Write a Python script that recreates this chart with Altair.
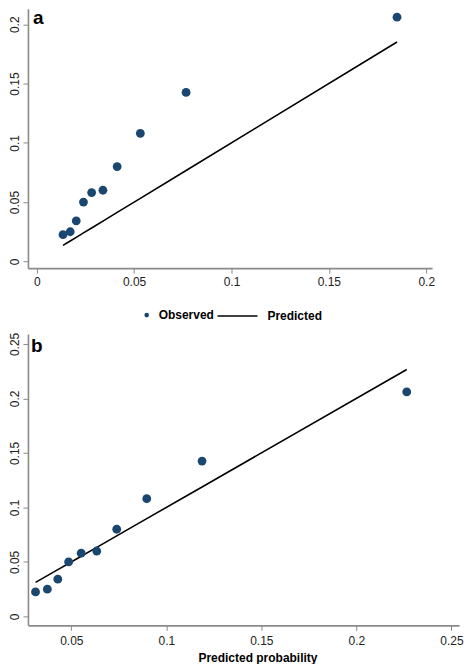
import altair as alt
import pandas as pd

# ---- data ----
observed = [0.0225, 0.025, 0.0342, 0.050, 0.058, 0.060, 0.080, 0.108, 0.1425, 0.206]
pred_a = [0.0135, 0.0172, 0.0203, 0.0240, 0.0282, 0.0340, 0.0413, 0.0532, 0.0767, 0.1850]
pred_b = [0.0312, 0.0374, 0.0429, 0.0486, 0.0552, 0.0634, 0.0739, 0.0897, 0.1188, 0.2265]
series_names = ["Observed", "Predicted"]
x_ticks_a = [0, 0.05, 0.1, 0.15, 0.2]
y_ticks_a = [0, 0.05, 0.1, 0.15, 0.2]
x_ticks_b = [0.05, 0.1, 0.15, 0.2, 0.25]
y_ticks_b = [0, 0.05, 0.1, 0.15, 0.2, 0.25]
panel_labels = ["a", "b"]
x_title_b = "Predicted probability"

NAVY = "#1a476f"
GREY = "#8a8a8a"
FONT = "Liberation Sans"

df_a = pd.DataFrame({"pred": pred_a, "obs": observed,
                     "s_obs": series_names[0], "s_pred": series_names[1]})
df_b = pd.DataFrame({"pred": pred_b, "obs": observed})


def x_axis(values, title=None, pad=3, **kw):
    return alt.Axis(values=values, format="~g", title=title, grid=False,
                    domainColor=GREY, domainWidth=1.6, tickColor=GREY,
                    tickSize=5, tickWidth=1, labelColor="#222", labelFont=FONT,
                    labelFontSize=12, labelPadding=pad, **kw)


def y_axis(values):
    return alt.Axis(values=values, format="~g", title=None, grid=False,
                    domainColor=GREY, domainWidth=1.6, tickColor=GREY,
                    tickSize=5, tickWidth=1, labelColor="#222", labelFont=FONT,
                    labelFontSize=12, labelAngle=270, labelAlign="center",
                    labelBaseline="bottom", labelPadding=1)


# ---- panel a ----
xs_a = alt.Scale(domain=[-0.0045, 0.203], nice=False, zero=False)
ys_a = alt.Scale(domain=[-0.0057, 0.2131], nice=False, zero=False)

pts_a = alt.Chart(df_a).mark_circle(size=78, opacity=1).encode(
    x=alt.X("pred:Q", scale=xs_a, axis=x_axis(x_ticks_a)),
    y=alt.Y("obs:Q", scale=ys_a, axis=y_axis(y_ticks_a)),
    fill=alt.Fill("s_obs:N", scale=alt.Scale(domain=[series_names[0]], range=[NAVY]),
                  legend=alt.Legend(title=None, orient="none", legendX=113, legendY=301,
                                    symbolType="circle", symbolSize=22, symbolStrokeWidth=0,
                                    labelFont=FONT, labelFontSize=12, labelFontWeight="bold",
                                    labelColor="black", labelOffset=6, padding=0)),
)
line_a = alt.Chart(df_a).mark_line(strokeWidth=1.6).encode(
    x=alt.X("pred:Q", scale=xs_a, axis=x_axis(x_ticks_a)),
    y=alt.Y("pred:Q", scale=ys_a, axis=y_axis(y_ticks_a)),
    stroke=alt.Stroke("s_pred:N", scale=alt.Scale(domain=[series_names[1]], range=["black"]),
                      legend=alt.Legend(title=None, orient="none", legendX=189, legendY=287,
                                        symbolType="stroke", symbolSize=1600,
                                        symbolStrokeWidth=1.6, symbolStrokeColor="black",
                                        labelFont=FONT, labelFontSize=12,
                                        labelFontWeight="bold", labelColor="black",
                                        labelOffset=9, padding=0)),
)
lab_a = alt.Chart(pd.DataFrame({"label": [panel_labels[0]]})).mark_text(
    font=FONT, fontSize=19, fontWeight="bold", align="left", baseline="alphabetic",
    color="black").encode(x=alt.value(5), y=alt.value(15), text="label:N")

panel_a = alt.layer(line_a, pts_a, lab_a).properties(width=405, height=260)

# ---- panel b ----
xs_b = alt.Scale(domain=[0.0272, 0.254], nice=False, zero=False)
ys_b = alt.Scale(domain=[-0.0082, 0.2591], nice=False, zero=False)

xb_axis = x_axis(x_ticks_b, title=x_title_b, pad=5, titleFont=FONT, titleFontSize=12,
                 titleFontWeight="bold", titleColor="black", titlePadding=6, titleX=230)

pts_b = alt.Chart(df_b).mark_circle(size=78, opacity=1, color=NAVY).encode(
    x=alt.X("pred:Q", scale=xs_b, axis=xb_axis),
    y=alt.Y("obs:Q", scale=ys_b, axis=y_axis(y_ticks_b)),
)
line_b = alt.Chart(df_b).mark_line(strokeWidth=1.6, color="black").encode(
    x=alt.X("pred:Q", scale=xs_b, axis=xb_axis),
    y=alt.Y("pred:Q", scale=ys_b, axis=y_axis(y_ticks_b)),
)
lab_b = alt.Chart(pd.DataFrame({"label": [panel_labels[1]]})).mark_text(
    font=FONT, fontSize=19, fontWeight="bold", align="left", baseline="alphabetic",
    color="black").encode(x=alt.value(3), y=alt.value(18), text="label:N")

panel_b = alt.layer(line_b, pts_b, lab_b).properties(width=432, height=292)

chart = alt.vconcat(panel_a, panel_b, spacing=66, bounds="flush").resolve_legend(
    fill="independent", stroke="independent"
).properties(padding=0).configure_view(stroke=None)

chart.save("out.html", embed_options={"renderer": "svg", "actions": False})
